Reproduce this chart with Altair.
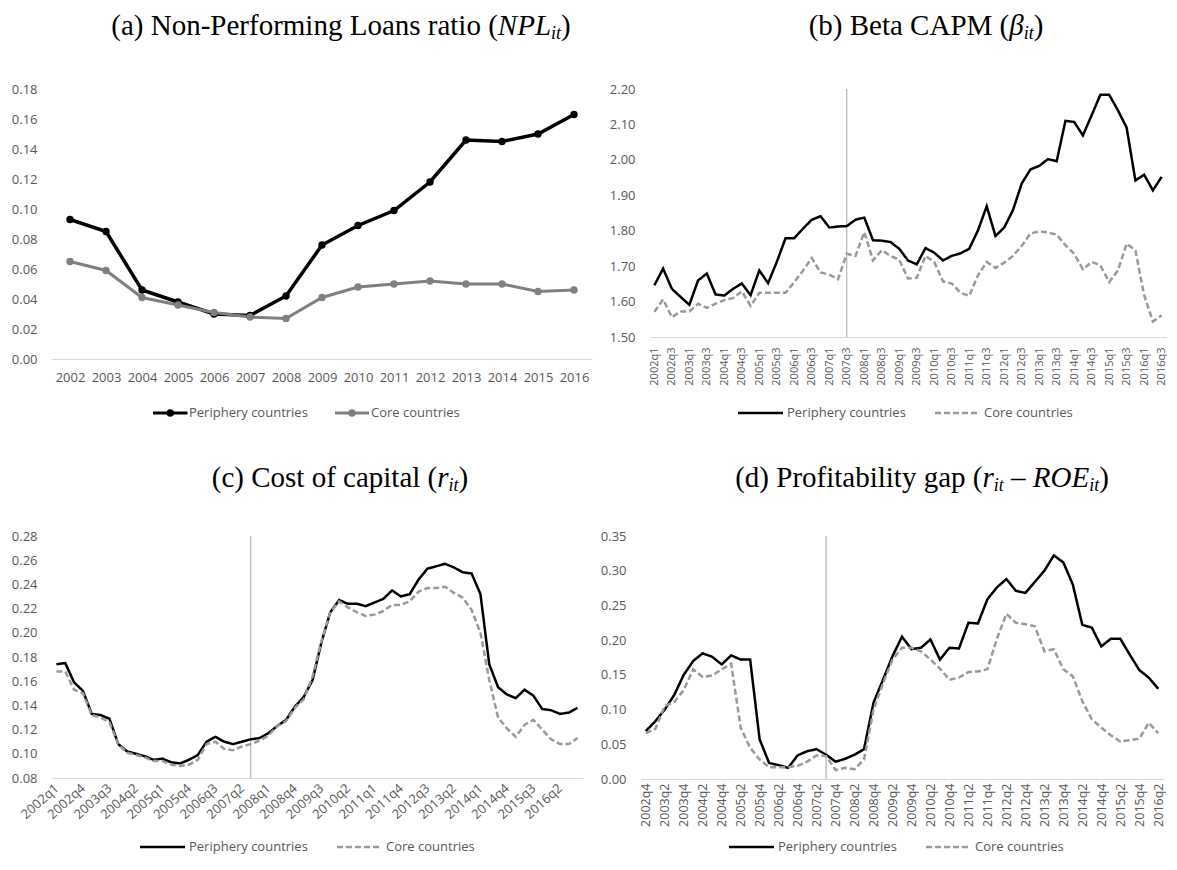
import altair as alt
import pandas as pd

# ---------------- data ----------------
SERIES = ["Periphery countries", "Core countries"]

years = ["2002", "2003", "2004", "2005", "2006", "2007", "2008", "2009",
         "2010", "2011", "2012", "2013", "2014", "2015", "2016"]
npl_periphery = [0.093, 0.085, 0.046, 0.038, 0.030, 0.029, 0.042, 0.076,
                 0.089, 0.099, 0.118, 0.146, 0.145, 0.150, 0.163]
npl_core = [0.065, 0.059, 0.041, 0.036, 0.031, 0.028, 0.027, 0.041,
            0.048, 0.050, 0.052, 0.050, 0.050, 0.045, 0.046]

all_quarters = [f"{y}q{q}" for y in range(2002, 2017) for q in (1, 2, 3, 4)]
quarters_beta = all_quarters[0:59]          # 2002q1 .. 2016q3
quarters_cost = all_quarters[0:60]          # 2002q1 .. 2016q4
quarters_gap = all_quarters[3:58]           # 2002q4 .. 2016q2

beta_periphery = [1.646, 1.693, 1.636, 1.613, 1.591, 1.660, 1.679, 1.620, 1.617, 1.636,
                  1.651, 1.618, 1.688, 1.652, 1.712, 1.779, 1.779, 1.806, 1.831, 1.841,
                  1.809, 1.812, 1.813, 1.831, 1.837, 1.773, 1.772, 1.768, 1.749, 1.716,
                  1.705, 1.751, 1.738, 1.716, 1.729, 1.736, 1.749, 1.801, 1.869, 1.785,
                  1.809, 1.858, 1.933, 1.973, 1.983, 2.002, 1.996, 2.110, 2.107, 2.069,
                  2.126, 2.184, 2.184, 2.140, 2.091, 1.942, 1.958, 1.914, 1.952]
beta_core = [1.571, 1.606, 1.556, 1.572, 1.572, 1.594, 1.582, 1.594, 1.604, 1.610,
             1.629, 1.588, 1.625, 1.625, 1.625, 1.625, 1.655, 1.688, 1.723, 1.682,
             1.676, 1.663, 1.735, 1.729, 1.796, 1.716, 1.745, 1.729, 1.718, 1.665,
             1.667, 1.729, 1.712, 1.657, 1.651, 1.625, 1.616, 1.674, 1.712, 1.695,
             1.710, 1.729, 1.757, 1.792, 1.798, 1.795, 1.789, 1.759, 1.735, 1.691,
             1.712, 1.702, 1.655, 1.688, 1.763, 1.745, 1.618, 1.544, 1.561]

cost_periphery = [0.174, 0.175, 0.159, 0.152, 0.133, 0.132, 0.129, 0.108, 0.102, 0.100,
                  0.098, 0.095, 0.096, 0.093, 0.092, 0.095, 0.099, 0.110, 0.114, 0.110,
                  0.108, 0.110, 0.112, 0.113, 0.117, 0.123, 0.128, 0.139, 0.147, 0.161,
                  0.192, 0.217, 0.227, 0.224, 0.224, 0.222, 0.225, 0.228, 0.235, 0.230,
                  0.232, 0.244, 0.253, 0.255, 0.257, 0.254, 0.250, 0.249, 0.232, 0.174,
                  0.155, 0.149, 0.146, 0.153, 0.148, 0.137, 0.136, 0.133, 0.134, 0.138]
cost_core = [0.168, 0.168, 0.153, 0.150, 0.132, 0.130, 0.126, 0.108, 0.101, 0.099,
             0.097, 0.094, 0.094, 0.091, 0.090, 0.091, 0.095, 0.108, 0.110, 0.104,
             0.103, 0.106, 0.108, 0.111, 0.115, 0.123, 0.127, 0.138, 0.145, 0.164,
             0.193, 0.217, 0.226, 0.221, 0.217, 0.214, 0.215, 0.218, 0.223, 0.223,
             0.226, 0.234, 0.237, 0.237, 0.238, 0.233, 0.229, 0.219, 0.200, 0.161,
             0.130, 0.121, 0.114, 0.124, 0.128, 0.120, 0.112, 0.108, 0.108, 0.113]

gap_periphery = [0.069, 0.083, 0.100, 0.121, 0.150, 0.170, 0.181, 0.176, 0.165, 0.178,
                 0.172, 0.172, 0.057, 0.023, 0.020, 0.016, 0.034, 0.040, 0.043, 0.035,
                 0.025, 0.029, 0.035, 0.043, 0.110, 0.143, 0.177, 0.205, 0.187, 0.189,
                 0.201, 0.172, 0.189, 0.188, 0.225, 0.224, 0.259, 0.276, 0.288, 0.271,
                 0.268, 0.284, 0.300, 0.322, 0.312, 0.280, 0.222, 0.218, 0.191, 0.202,
                 0.202, 0.179, 0.157, 0.146, 0.130]
gap_core = [0.066, 0.072, 0.105, 0.111, 0.128, 0.158, 0.147, 0.149, 0.158, 0.166,
            0.074, 0.045, 0.028, 0.017, 0.017, 0.017, 0.019, 0.025, 0.034, 0.033,
            0.013, 0.016, 0.014, 0.028, 0.100, 0.138, 0.172, 0.189, 0.189, 0.184,
            0.172, 0.159, 0.143, 0.146, 0.154, 0.155, 0.158, 0.202, 0.238, 0.225,
            0.223, 0.220, 0.184, 0.187, 0.158, 0.148, 0.112, 0.086, 0.074, 0.063,
            0.054, 0.056, 0.058, 0.081, 0.066]

break_quarter = ["2007q3"]

ticks_npl = [0.00, 0.02, 0.04, 0.06, 0.08, 0.10, 0.12, 0.14, 0.16, 0.18]
ticks_beta = [1.50, 1.60, 1.70, 1.80, 1.90, 2.00, 2.10, 2.20]
ticks_cost = [0.08, 0.10, 0.12, 0.14, 0.16, 0.18, 0.20, 0.22, 0.24, 0.26, 0.28]
ticks_gap = [0.00, 0.05, 0.10, 0.15, 0.20, 0.25, 0.30, 0.35]

labels_beta = [q for q in quarters_beta if q.endswith(("q1", "q3"))]
labels_cost = quarters_cost[::3]
labels_gap = quarters_gap[::2]

# ---------------- styling ----------------
LABEL_FONT = "Open Sans"
GRAY_TXT = "#595959"
AXIS_LINE = "#d9d9d9"
SERIF = "Liberation Serif"
TITLE_SIZE = 29
SUB_SIZE = 18
SUB_DY = 4

REG = {' ': 250, '(': 333, ')': 333, '-': 333, 'a': 444, 'b': 500, 'c': 444, 'd': 500,
       'e': 444, 'f': 333, 'g': 500, 'i': 278, 'l': 278, 'm': 778, 'n': 500, 'o': 500,
       'p': 500, 'r': 333, 's': 389, 't': 278, 'y': 500, 'A': 722, 'B': 667, 'C': 667,
       'L': 611, 'M': 889, 'N': 722, 'P': 556, '–': 500}
ITA = {'N': 667, 'P': 611, 'L': 556, 'i': 278, 't': 278, 'r': 389, 'R': 611, 'O': 722,
       'E': 611, 'β': 500}

dummy = pd.DataFrame({"k": [0]})


def title_layers(pieces, center_x, baseline_y):
    widths = []
    for text, ital, sub in pieces:
        size = SUB_SIZE if sub else TITLE_SIZE
        table = ITA if ital else REG
        widths.append(sum(table.get(ch, REG.get(ch, 500)) for ch in text) * size / 1000)
    x = center_x - sum(widths) / 2
    layers = []
    for (text, ital, sub), w in zip(pieces, widths):
        size = SUB_SIZE if sub else TITLE_SIZE
        lead = (len(text) - len(text.lstrip(" "))) * REG[' '] * size / 1000
        layers.append(
            alt.Chart(dummy).mark_text(
                text=text.strip(" "), font=SERIF, fontSize=size,
                fontStyle="italic" if ital else "normal",
                align="left", baseline="alphabetic", color="#000000"
            ).encode(x=alt.value(x + lead), y=alt.value(baseline_y + (SUB_DY if sub else 0)))
        )
        x += w
    return layers


def legend_layers(y, sym1, text1, sym2, text2, colors, dashes, width, markers):
    layers = []
    for (x1, x2), tx, name, col, dash in zip((sym1, sym2), (text1, text2), SERIES, colors, dashes):
        layers.append(alt.Chart(dummy).mark_rule(color=col, strokeWidth=width, strokeDash=dash)
                      .encode(x=alt.value(x1), x2=alt.value(x2), y=alt.value(y)))
        if markers:
            layers.append(alt.Chart(dummy).mark_point(filled=True, size=55, opacity=1, color=col)
                          .encode(x=alt.value((x1 + x2) / 2), y=alt.value(y)))
        layers.append(alt.Chart(dummy).mark_text(text=name, font=LABEL_FONT, fontSize=13,
                                                 color=GRAY_TXT, align="left", baseline="middle")
                      .encode(x=alt.value(tx), y=alt.value(y)))
    return layers


def y_axis(values):
    return alt.Axis(values=values, format=".2f", domain=False, ticks=False, grid=False,
                    labelFont=LABEL_FONT, labelFontSize=13, labelColor=GRAY_TXT,
                    labelPadding=15, title=None)


def x_axis(values, angle, size, pad):
    return alt.Axis(values=values, labelAngle=angle, domain=True, domainColor=AXIS_LINE,
                    domainWidth=1, ticks=False, grid=False, labelFont=LABEL_FONT,
                    labelFontSize=size, labelColor=GRAY_TXT, labelPadding=pad,
                    labelOverlap=False, title=None)


def long_df(key, cats, p, c):
    return pd.DataFrame({key: list(cats) + list(cats), "value": list(p) + list(c),
                         "series": [SERIES[0]] * len(p) + [SERIES[1]] * len(c)})


# ---------------- panel (a) ----------------
df_a = long_df("year", years, npl_periphery, npl_core)
xa = alt.X("year:O", scale=alt.Scale(type="point", padding=0.5, domain=years),
           axis=x_axis(years, 0, 13, 12))
ya = alt.Y("value:Q", scale=alt.Scale(domain=[0, 0.18], nice=False, zero=False),
           axis=y_axis(ticks_npl))
col_a = alt.Scale(domain=SERIES, range=["#000000", "#808080"])

lines_a = alt.Chart(df_a).mark_line().encode(
    x=xa, y=ya,
    color=alt.Color("series:N", scale=col_a, legend=None),
    strokeWidth=alt.StrokeWidth("series:N", scale=alt.Scale(domain=SERIES, range=[3.5, 3]),
                                legend=None),
)
points_a = alt.Chart(df_a).mark_point(filled=True, size=55, opacity=1).encode(
    x=xa, y=ya,
    color=alt.Color("series:N", scale=col_a, legend=None),
)
panel_a = alt.layer(
    lines_a, points_a,
    *title_layers([("(a) Non-Performing Loans ratio (", False, False), ("NPL", True, False),
                   ("it", True, True), (")", False, False)], 289, -54),
    *legend_layers(324, (101, 135.5), 137, (283, 317), 319,
                   ["#000000", "#808080"], [[1, 0], [1, 0]], 3, True)
).properties(width=540, height=270)


# ---------------- quarterly panels ----------------
def quarter_panel(cats, p, c, ticks, domain, labels, angle, lsize, lpad, width, height,
                  title_pieces, title_cx, title_by, leg_y):
    df = long_df("q", cats, p, c)
    x = alt.X("q:O", scale=alt.Scale(type="point", padding=0.5, domain=cats),
              axis=x_axis(labels, angle, lsize, lpad))
    y = alt.Y("value:Q", scale=alt.Scale(domain=domain, nice=False, zero=False),
              axis=y_axis(ticks))
    lines = alt.Chart(df).mark_line(strokeWidth=2.5).encode(
        x=x, y=y,
        color=alt.Color("series:N", scale=alt.Scale(domain=SERIES, range=["#000000", "#9a9a9a"]),
                        legend=None),
        strokeDash=alt.StrokeDash("series:N",
                                  scale=alt.Scale(domain=SERIES, range=[[1, 0], [6, 3]]),
                                  legend=None),
    )
    rule = alt.Chart(pd.DataFrame({"q": break_quarter})).mark_rule(
        color="#a6a6a6", strokeWidth=1).encode(x=alt.X("q:O"))
    return alt.layer(
        rule, lines,
        *title_layers(title_pieces, title_cx, title_by),
        *legend_layers(leg_y, (88, 133), 137, (285, 330), 334,
                       ["#000000", "#9a9a9a"], [[1, 0], [6, 3]], 2.5, False)
    ).properties(width=width, height=height)


panel_b = quarter_panel(quarters_beta, beta_periphery, beta_core, ticks_beta, [1.5, 2.2],
                        labels_beta, -90, 11, 10, 516, 248,
                        [("(b) Beta CAPM (", False, False), ("β", True, False),
                         ("it", True, True), (")", False, False)], 276, -54, 324)

panel_c = quarter_panel(quarters_cost, cost_periphery, cost_core, ticks_cost, [0.08, 0.28],
                        labels_cost, -42, 13, 8, 530, 242,
                        [("(c) Cost of capital (", False, False), ("r", True, False),
                         ("it", True, True), (")", False, False)], 288, -49, 311)

panel_d = quarter_panel(quarters_gap, gap_periphery, gap_core, ticks_gap, [0, 0.35],
                        labels_gap, -90, 12.5, 4, 522, 243,
                        [("(d) Profitability gap (", False, False), ("r", True, False),
                         ("it", True, True), (" – ", False, False), ("ROE", True, False),
                         ("it", True, True), (")", False, False)], 281, -49, 311)

IND = dict(color="independent", strokeDash="independent", strokeWidth="independent")

row1 = alt.hconcat(panel_a, panel_b, spacing=17).resolve_scale(**IND)
row2 = alt.hconcat(panel_c, panel_d, spacing=17).resolve_scale(**IND)

chart = alt.vconcat(row1, row2, spacing=44).resolve_scale(**IND).properties(
    padding={"left": 3, "top": 4, "right": 0, "bottom": 0}
).configure_view(strokeWidth=0)

chart.save("out.html", embed_options={"renderer": "svg", "actions": False})
